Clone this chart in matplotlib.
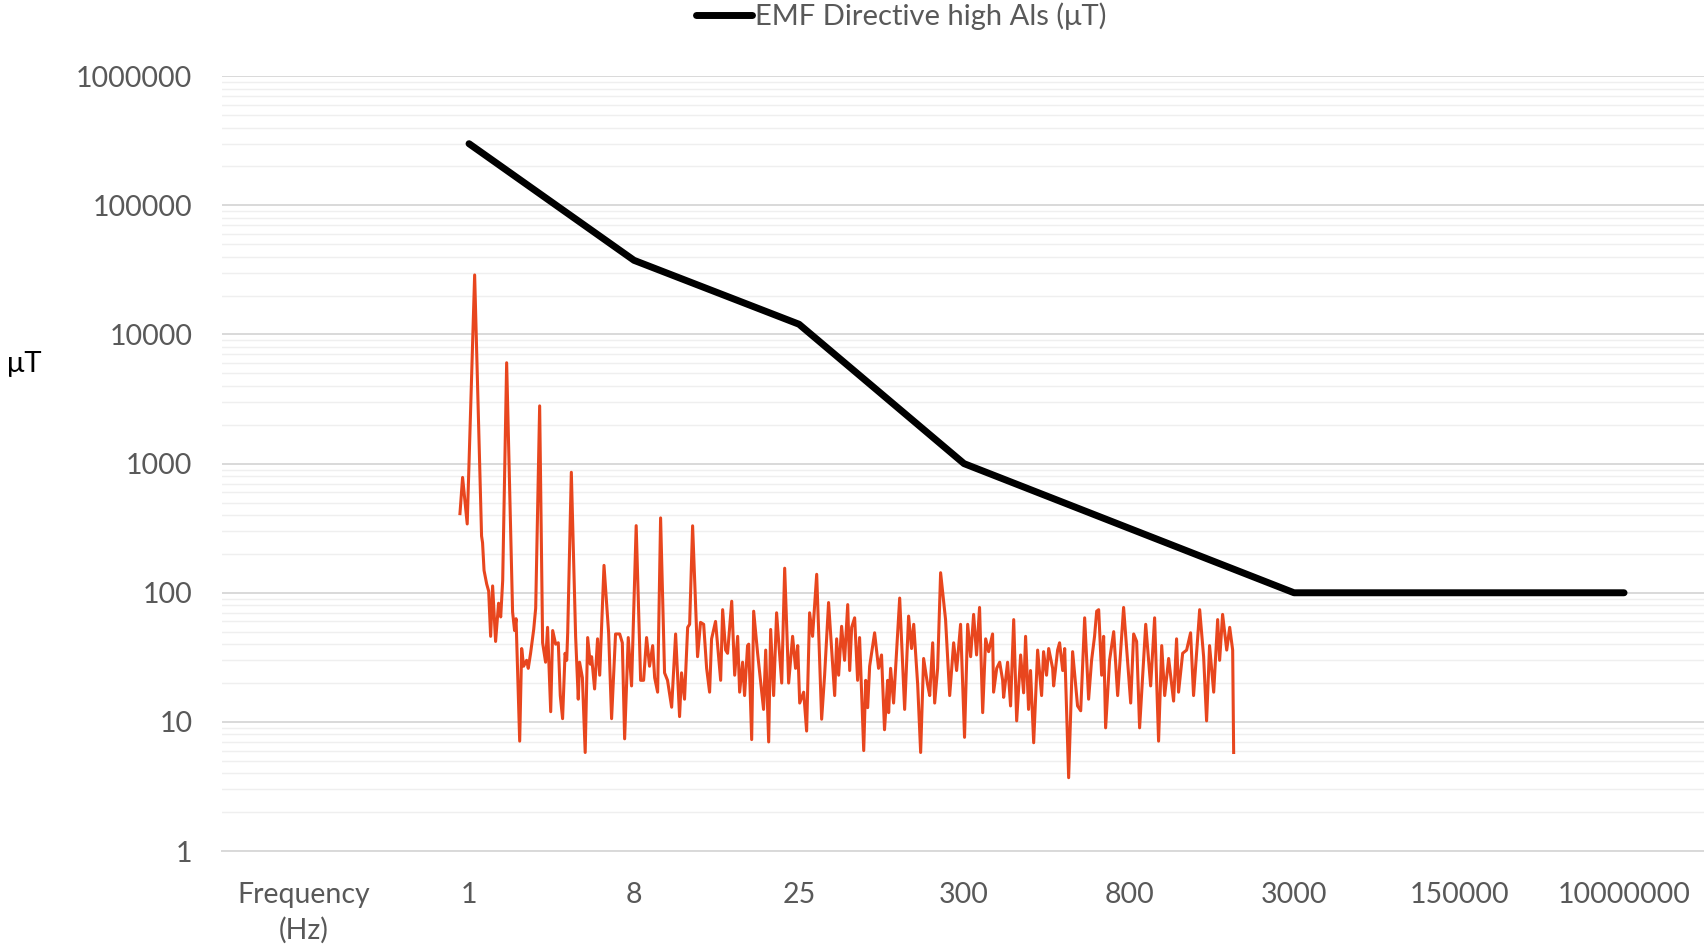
import matplotlib
matplotlib.use("Agg")
import matplotlib.pyplot as plt
from matplotlib.ticker import LogLocator, NullFormatter

plt.rcParams['font.family'] = ['Lato', 'DejaVu Sans']

# category axis (Excel-style line chart)
categories = ["Frequency\n(Hz)", "1", "8", "25", "300", "800", "3000", "150000", "10000000"]

# EMF Directive high ALs, one value per category from "1" onwards
limit_vals = [300000, 37500, 12000, 1000, 316, 100, 100, 100]

# measured spectrum, positions given in category-axis units
spec_pos = [0.945, 0.961, 0.989, 1.034, 1.076, 1.082, 1.091, 1.107, 1.119, 1.131,
            1.143, 1.161, 1.179, 1.192, 1.198, 1.204, 1.228, 1.264, 1.276, 1.285,
            1.307, 1.319, 1.331, 1.349, 1.359, 1.373, 1.392, 1.404, 1.428, 1.446,
            1.464, 1.476, 1.495, 1.507, 1.525, 1.541, 1.553, 1.567, 1.582, 1.592,
            1.598, 1.620, 1.646, 1.662, 1.670, 1.687, 1.704, 1.719, 1.735, 1.743,
            1.761, 1.779, 1.792, 1.818, 1.846, 1.864, 1.888, 1.913, 1.929, 1.943,
            1.965, 1.985, 2.013, 2.040, 2.058, 2.076, 2.094, 2.113, 2.125, 2.143,
            2.161, 2.185, 2.203, 2.228, 2.252, 2.276, 2.288, 2.306, 2.325, 2.337,
            2.355, 2.385, 2.403, 2.422, 2.440, 2.458, 2.470, 2.494, 2.525, 2.537,
            2.555, 2.567, 2.592, 2.610, 2.628, 2.640, 2.658, 2.670, 2.688, 2.695,
            2.713, 2.725, 2.749, 2.785, 2.798, 2.816, 2.828, 2.846, 2.864, 2.895,
            2.913, 2.937, 2.961, 2.979, 2.992, 3.004, 3.028, 3.046, 3.064, 3.082,
            3.107, 3.137, 3.155, 3.179, 3.216, 3.228, 3.240, 3.258, 3.276, 3.295,
            3.307, 3.319, 3.337, 3.355, 3.367, 3.392, 3.404, 3.416, 3.428, 3.458,
            3.482, 3.500, 3.518, 3.537, 3.543, 3.555, 3.573, 3.610, 3.640, 3.664,
            3.682, 3.695, 3.719, 3.737, 3.755, 3.779, 3.792, 3.810, 3.822, 3.840,
            3.858, 3.888, 3.913, 3.937, 3.955, 3.979, 4.003, 4.022, 4.040, 4.058,
            4.076, 4.094, 4.113, 4.131, 4.149, 4.173, 4.179, 4.198, 4.216, 4.234,
            4.240, 4.264, 4.282, 4.301, 4.319, 4.343, 4.361, 4.373, 4.391, 4.403,
            4.422, 4.446, 4.470, 4.482, 4.500, 4.513, 4.537, 4.543, 4.567, 4.579,
            4.598, 4.610, 4.634, 4.658, 4.688, 4.707, 4.731, 4.755, 4.773, 4.791,
            4.804, 4.816, 4.834, 4.846, 4.858, 4.882, 4.907, 4.931, 4.967, 4.992,
            5.010, 5.028, 5.046, 5.064, 5.101, 5.131, 5.155, 5.179, 5.198, 5.216,
            5.240, 5.270, 5.288, 5.300, 5.325, 5.349, 5.373, 5.391, 5.428, 5.452,
            5.470, 5.488, 5.513, 5.537, 5.549, 5.567, 5.592, 5.610, 5.628, 5.634]
spec_val = [410, 782, 341, 28900, 275, 244, 149, 117, 103, 46,
            113, 42, 83, 65, 91, 124, 6040, 71, 51, 63,
            7.1, 37, 27, 30, 26, 34, 52, 76, 2800, 41,
            29, 54, 12, 51, 40, 41, 16, 10.6, 34, 30,
            49, 857, 46, 15, 29, 22, 5.8, 45, 28, 32,
            18, 44, 23, 163, 49, 10.6, 48, 48, 41, 7.4,
            45, 19, 331, 21, 21, 45, 27, 39, 22, 17,
            380, 24, 21, 13, 48, 11, 24, 15, 54, 57,
            330, 32, 59, 57, 26, 17, 44, 60, 21, 74,
            36, 34, 86, 23, 46, 17, 29, 16, 39, 40,
            7.3, 72, 34, 12.5, 36, 7.0, 52, 16, 70, 20,
            155, 20, 46, 26, 39, 14, 17, 8.5, 70, 46,
            139, 10.5, 23, 84, 16, 44, 23, 55, 30, 81,
            25, 54, 64, 21, 45, 6.0, 21, 12.9, 27, 49,
            26, 33, 8.7, 21, 11.8, 26, 14, 91, 12.5, 66,
            37, 57, 19.5, 5.8, 31, 19.5, 16, 41, 14, 26,
            143, 62, 16, 41, 25, 57, 7.6, 57, 32, 68,
            33, 77, 11.8, 44, 35, 48, 17, 26, 29, 21,
            15.5, 29, 13.3, 62, 10.2, 33, 16.8, 46, 12.5, 25,
            6.9, 36, 16, 35, 23, 37, 26, 19, 36, 41,
            25, 37, 3.7, 35, 13.3, 12.2, 64, 15, 30, 46,
            72, 74, 23, 46, 9.0, 30, 50, 16, 77, 29,
            14, 48, 42, 9.0, 57, 19, 64, 7.1, 39, 16,
            31, 14.5, 44, 17, 34, 36, 49, 16, 74, 32,
            10.2, 39, 17, 62, 30, 68, 36, 54, 36, 5.8]

y_ticks = [1, 10, 100, 1000, 10000, 100000, 1000000]

grey = "#595959"

fig = plt.figure(figsize=(17.04, 9.52), dpi=100)
ax = fig.add_axes([0.130, 0.106, 0.8715, 0.814])

ax.set_yscale("log")
ax.set_ylim(1, 1e6)
ax.set_xlim(-0.5, len(categories) - 0.5)

ax.set_yticks(y_ticks, [str(v) for v in y_ticks])
ax.yaxis.set_minor_locator(LogLocator(base=10, subs=range(2, 10)))
ax.yaxis.set_minor_formatter(NullFormatter())
ax.set_xticks(range(len(categories)), categories)
for lab in ax.get_xticklabels():
    lab.set_linespacing(1.4)

ax.grid(True, which="minor", axis="y", color="#efefef", lw=1.0)
ax.grid(True, which="major", axis="y", color="#d9d9d9", lw=1.4)
ax.set_axisbelow(True)
for s in ["top", "right", "left"]:
    ax.spines[s].set_visible(False)
ax.spines["bottom"].set_color("#d9d9d9")
ax.spines["bottom"].set_linewidth(1.4)

ax.tick_params(axis="both", which="both", length=0, labelsize=20.5, labelcolor=grey)
ax.tick_params(axis="y", pad=21)
ax.tick_params(axis="x", pad=22)

ax.plot(spec_pos, spec_val, color="#e8461e", lw=2.2, solid_joinstyle="round", zorder=2)
line, = ax.plot(range(1, len(categories)), limit_vals, color="black", lw=5,
                solid_capstyle="round", solid_joinstyle="round", zorder=3)

fig.text(24 / 1704, 1 - 364 / 952, "μT", fontsize=21, color="black",
         ha="center", va="center")

fig.legend([line], ["EMF Directive high Als (μT)"], loc="center",
           bbox_to_anchor=(0.529, 1 - 16 / 952), frameon=False, fontsize=21,
           labelcolor=grey, handlelength=1.9, handletextpad=0.1)

fig.savefig("out.png", dpi=100)
